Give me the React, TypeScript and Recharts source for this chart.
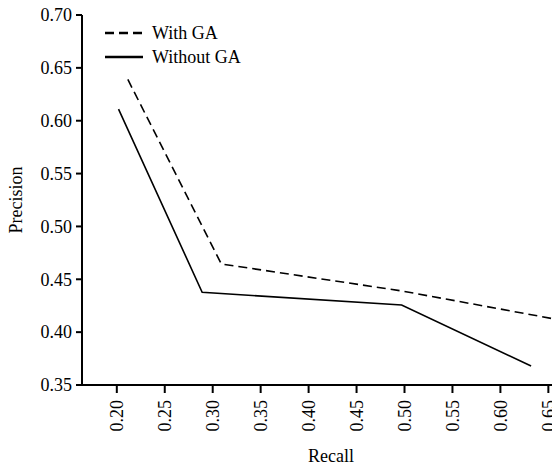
import React from "react";
import { LineChart, Line, XAxis, YAxis, Legend } from "recharts";

const withGaRecall = [0.2115, 0.309, 0.497, 0.665];
const withGaPrecision = [0.639, 0.4645, 0.439, 0.411];
const withoutGaRecall = [0.2018, 0.289, 0.497, 0.632];
const withoutGaPrecision = [0.611, 0.4377, 0.4257, 0.368];

const recallTicks = [0.2, 0.25, 0.3, 0.35, 0.4, 0.45, 0.5, 0.55, 0.6, 0.65];
const precisionTicks = [0.35, 0.4, 0.45, 0.5, 0.55, 0.6, 0.65, 0.7];

const seriesNames = ["With GA", "Without GA"];

const FONT = "Liberation Serif, Times New Roman, serif";

const withGaData = withGaRecall.map((r, i) => ({ recall: r, precision: withGaPrecision[i] }));
const withoutGaData = withoutGaRecall.map((r, i) => ({ recall: r, precision: withoutGaPrecision[i] }));

const RotatedTick = (props: any) => {
  const { x, y, payload } = props;
  return (
    <text
      x={x}
      y={y}
      dy="0.35em"
      transform={`rotate(-90 ${x} ${y})`}
      textAnchor="end"
      fill="#000"
      fontSize={18}
      style={{ fontFamily: FONT }}
    >
      {Number(payload.value).toFixed(2)}
    </text>
  );
};

const YTick = (props: any) => {
  const { x, y, payload } = props;
  return (
    <text x={x} y={y} dy="0.35em" textAnchor="end" fill="#000" fontSize={18} style={{ fontFamily: FONT }}>
      {Number(payload.value).toFixed(2)}
    </text>
  );
};

const YLabel = (props: any) => {
  const { viewBox } = props;
  const cy = viewBox.y + viewBox.height / 2;
  return (
    <text
      x={22}
      y={cy}
      transform={`rotate(-90 22 ${cy})`}
      textAnchor="middle"
      fill="#000"
      fontSize={18}
      style={{ fontFamily: FONT }}
    >
      Precision
    </text>
  );
};

const LegendBox = () => (
  <svg width={170} height={50} style={{ fontFamily: FONT }}>
    <line x1={5} x2={43} y1={13} y2={13} stroke="#000" strokeWidth={2.5} strokeDasharray="9 5" />
    <text x={52} y={13} dy="0.35em" fontSize={18} fill="#000">
      {seriesNames[0]}
    </text>
    <line x1={5} x2={43} y1={37} y2={37} stroke="#000" strokeWidth={2.5} />
    <text x={52} y={37} dy="0.35em" fontSize={18} fill="#000">
      {seriesNames[1]}
    </text>
  </svg>
);

export default function App() {
  return (
    <div
      style={{
        position: "absolute",
        left: 0,
        top: 0,
        width: 552,
        height: 468,
        overflow: "hidden",
        background: "#fff",
        fontFamily: FONT,
      }}
    >
      <LineChart width={580} height={468} margin={{ top: 15, right: 0, bottom: 0, left: 0 }} style={{ fontFamily: FONT }}>
        <XAxis
          type="number"
          dataKey="recall"
          domain={[0.1637, 0.683]}
          ticks={recallTicks}
          allowDataOverflow
          height={83}
          tickSize={8}
          tickMargin={7}
          tick={<RotatedTick />}
          axisLine={{ stroke: "#000", strokeWidth: 2 }}
          tickLine={{ stroke: "#000", strokeWidth: 2 }}
          label={{ value: "Recall", position: "insideBottom", offset: 6, fill: "#000", fontSize: 18, fontFamily: FONT }}
        />
        <YAxis
          type="number"
          dataKey="precision"
          domain={[0.35, 0.7]}
          ticks={precisionTicks}
          width={82}
          tickSize={6}
          tickMargin={4}
          tick={<YTick />}
          axisLine={{ stroke: "#000", strokeWidth: 2 }}
          tickLine={{ stroke: "#000", strokeWidth: 2 }}
          label={<YLabel />}
        />
        <Legend
          layout="horizontal"
          verticalAlign="middle"
          align="center"
          wrapperStyle={{ left: 100, top: 20, width: 170 }}
          content={() => <LegendBox />}
        />
        <Line
          data={withGaData}
          dataKey="precision"
          name={seriesNames[0]}
          type="linear"
          stroke="#000"
          strokeWidth={1.6}
          strokeDasharray="9 5"
          dot={false}
          activeDot={false}
          isAnimationActive={false}
        />
        <Line
          data={withoutGaData}
          dataKey="precision"
          name={seriesNames[1]}
          type="linear"
          stroke="#000"
          strokeWidth={1.6}
          dot={false}
          activeDot={false}
          isAnimationActive={false}
        />
      </LineChart>
    </div>
  );
}
